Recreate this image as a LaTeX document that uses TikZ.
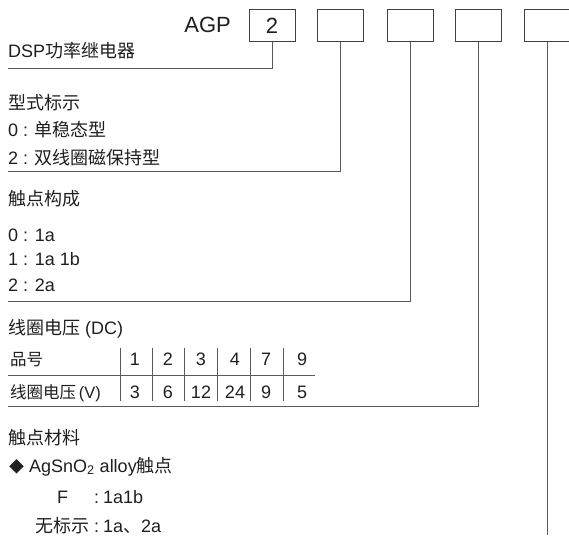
\documentclass[tikz,border=0pt]{standalone}
\usepackage{fontspec}
\setmainfont{Liberation Sans}
\newfontfamily\cj{Noto Sans CJK SC}
\begin{document}
\begin{tikzpicture}[x=1pt,y=-1pt,
  txt/.style={anchor=base west,inner sep=0pt,text=black!88,font=\fontsize{18}{21}\selectfont},
  smalltxt/.style={txt,font=\fontsize{16.5}{20}\selectfont},
  codebox/.style={draw=black!75,line width=1pt,minimum width=46pt,minimum height=32pt,inner sep=0pt,text=black!88,font=\fontsize{22}{24}\selectfont},
  conn/.style={draw=black!65,line width=1pt},
  num/.style={anchor=base,inner sep=0pt,text=black!88,font=\fontsize{18}{21}\selectfont}]
\useasboundingbox (0,0) rectangle (569,537);
% header
\node[anchor=base east,inner sep=0pt,text=black!88,font=\fontsize{22}{24}\selectfont] (agp) at (231,33) {AGP};
\node[codebox] (b1) at (272,26) {2};
\node[codebox] (b2) at (340,26) {};
\node[codebox] (b3) at (410,26) {};
\node[codebox] (b4) at (478,26) {};
\node[codebox] (b5) at (547,26) {};
% connector ends
\coordinate (e1) at (8,69);
\coordinate (e2) at (8,172);
\coordinate (e3) at (8,301);
\coordinate (e4) at (8,406);
\coordinate (e5) at (547,535);
\draw[conn] (b1.south) |- (e1);
\draw[conn] (b2.south) |- (e2);
\draw[conn] (b3.south) |- (e3);
\draw[conn] (b4.south) |- (e4);
\draw[conn] (b5.south) -- (e5);
% section 1
\node[txt] (t1) at (8,58) {DSP{\cj 功率继电器}};
% section 2
\node[txt] (t2) at (8,110) {\cj 型式标示};
\node[txt] (t3) at (8,137) {0 : {\cj 单稳态型}};
\node[txt] (t4) at (8,165) {2 : {\cj 双线圈磁保持型}};
% section 3
\node[txt] (t5) at (8,205) {\cj 触点构成};
\node[txt] (t6) at (8,241) {0 : 1a};
\node[txt] (t7) at (8,265) {1 : 1a 1b};
\node[txt] (t8) at (8,291) {2 : 2a};
% section 4
\node[txt] (t9) at (8,334) {{\cj 线圈电压} (DC)};
\node[smalltxt] (r1) at (10,365) {\cj 品号};
\node[smalltxt] (r2) at (10,398) {{\cj 线圈电压}\,(V)};
\foreach \x/\a/\b in {135/1/3,168/2/6,201/3/12,235/4/24,266/7/9,302/9/5}{
  \node[num] at (\x,365) {\a};
  \node[num] at (\x,398) {\b};
}
\foreach \x in {120,152,184,217,250,283}{
  \draw[conn] (\x,348) -- (\x,401);
}
\draw[conn] (8,375) -- (315,375);
% section 5
\node[txt] (t10) at (8,444) {\cj 触点材料};
\node[txt] (t11) at (9,472) {{\cj\fontsize{15}{18}\selectfont ◆} AgSnO\textsubscript{2} alloy{\cj 触点}};
\node[txt] (t12) at (57,503) {F};
\node[txt] (t13) at (94,503) {:};
\node[txt] (t14) at (103,503) {1a1b};
\node[txt] (t15) at (35,532) {\cj 无标示};
\node[txt] (t16) at (94,532) {:};
\node[txt] (t17) at (103,532) {1a{\cj 、}2a};
\end{tikzpicture}
\end{document}
